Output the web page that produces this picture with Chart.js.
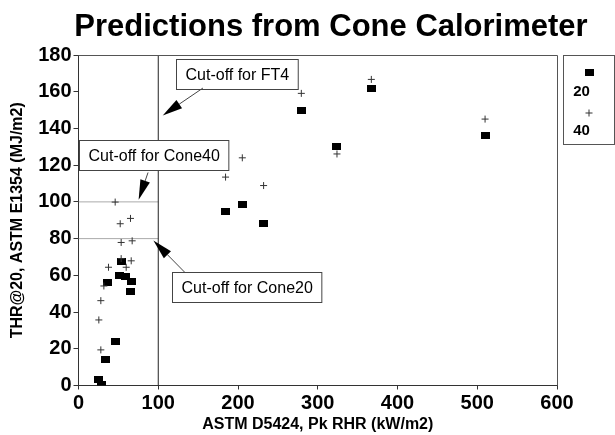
<!DOCTYPE html>
<html>
<head>
<meta charset="utf-8">
<script src="https://cdn.jsdelivr.net/npm/chart.js@4/dist/chart.umd.min.js"></script>
<style>
  html, body { margin: 0; padding: 0; background: #fff; }
</style>
</head>
<body>
<canvas id="chart" width="615" height="435"></canvas>
<script>
// Cone 20 series (squares): Pk RHR vs THR
const rhr20 = [25.5, 28.9, 33.5, 46.4, 36.8, 51.4, 58.5, 66.5, 65.7, 54.5, 184, 205.8, 232.1, 279.4, 324.1, 367.2, 509.8];
const thr20 = [3.4, 0.6, 14.3, 23.9, 56.2, 59.8, 59.3, 56.8, 51.0, 67.5, 94.8, 98.8, 88.4, 149.7, 130.2, 161.8, 136.2];

// Cone 40 series (crosses)
const rhr40 = [25.5, 28, 28, 31.8, 37.6, 46, 52.3, 53.5, 53.5, 59.8, 65.2, 66.1, 67.3, 184.4, 205.4, 232.1, 279.4, 324.1, 367.2, 509.8];
const thr40 = [35.7, 19.4, 46.2, 54.2, 64.4, 99.9, 88.1, 77.9, 69.1, 64.4, 91, 67.9, 78.8, 113.5, 124, 108.9, 159.1, 126.1, 166.7, 145.1];

const seriesNames = ["20", "40"];

// cut-off values
const cutFT4 = 100;      // RHR
const cutCone40 = 100;   // THR
const cutCone20 = 80;    // THR

const xRange = [0, 600];
const yRange = [0, 180];

const notes = [
  { text: "Cut-off for FT4", box: [122, 178], tail: [156, 162], tip: [105.6, 147.1] },
  { text: "Cut-off for Cone40", box: [0, 133.9], tail: [87.2, 116], tip: [75.4, 101.1] },
  { text: "Cut-off for Cone20", box: [117.3, 61.9], tail: [133.6, 61.5], tip: [93.9, 79] }
];

const pts = (xs, ys) => xs.map((x, i) => ({ x: x, y: ys[i] }));

const sq = document.createElement("canvas");
sq.width = 9; sq.height = 7;
sq.getContext("2d").fillRect(0, 0, 9, 7);

const FONT = "'Liberation Sans', Arial, Helvetica, sans-serif";

function arrow(ctx, x1, y1, x2, y2) {
  const a = Math.atan2(y2 - y1, x2 - x1);
  const len = 20, half = 5;
  const bx = x2 - Math.cos(a) * len, by = y2 - Math.sin(a) * len;
  ctx.strokeStyle = "#444";
  ctx.lineWidth = 1;
  ctx.beginPath();
  ctx.moveTo(x1, y1);
  ctx.lineTo(bx, by);
  ctx.stroke();
  ctx.fillStyle = "#000";
  ctx.beginPath();
  ctx.moveTo(x2, y2);
  ctx.lineTo(bx - Math.sin(a) * half, by + Math.cos(a) * half);
  ctx.lineTo(bx + Math.sin(a) * half, by - Math.cos(a) * half);
  ctx.closePath();
  ctx.fill();
}

const extras = {
  id: "extras",
  afterDatasetsDraw(chart) {
    const { ctx, chartArea: a, scales } = chart;
    const sx = scales.x, sy = scales.y;
    ctx.save();
    // frame top and right
    ctx.strokeStyle = "#555";
    ctx.lineWidth = 1;
    ctx.beginPath();
    ctx.moveTo(a.left, a.top + 0.5);
    ctx.lineTo(a.right + 0.5, a.top + 0.5);
    ctx.lineTo(a.right + 0.5, a.bottom);
    ctx.stroke();

    // annotation boxes
    ctx.font = "16px " + FONT;
    notes.forEach(n => {
      const w = ctx.measureText(n.text).width + 18;
      const h = 30;
      const bx = Math.round(sx.getPixelForValue(n.box[0])) + 0.5;
      const by = Math.round(sy.getPixelForValue(n.box[1])) + 0.5;
      ctx.fillStyle = "#fff";
      ctx.fillRect(bx, by, w, h);
      ctx.strokeStyle = "#444";
      ctx.strokeRect(bx, by, w, h);
      ctx.fillStyle = "#000";
      ctx.textAlign = "center";
      ctx.textBaseline = "middle";
      ctx.fillText(n.text, bx + w / 2, by + h / 2 + 1);
      arrow(ctx, sx.getPixelForValue(n.tail[0]), sy.getPixelForValue(n.tail[1]),
        sx.getPixelForValue(n.tip[0]), sy.getPixelForValue(n.tip[1]));
    });

    // legend
    const lx = a.right + 6.5, ly = a.top + 0.5, lw = 51, lh = 89;
    ctx.strokeStyle = "#555";
    ctx.strokeRect(lx, ly, lw, lh);
    ctx.drawImage(sq, lx + 21, ly + 13);
    ctx.fillStyle = "#000";
    ctx.font = "bold 15px " + FONT;
    ctx.textAlign = "center";
    ctx.fillText(seriesNames[0], lx + 18, ly + 36);
    ctx.fillText(seriesNames[1], lx + 18, ly + 75);
    ctx.strokeStyle = "#333";
    ctx.beginPath();
    ctx.moveTo(lx + 22, ly + 57.5); ctx.lineTo(lx + 29, ly + 57.5);
    ctx.moveTo(lx + 25.5, ly + 54); ctx.lineTo(lx + 25.5, ly + 61);
    ctx.stroke();

    // title
    ctx.font = "bold 31px " + FONT;
    ctx.textAlign = "center";
    ctx.textBaseline = "alphabetic";
    ctx.fillText("Predictions from Cone Calorimeter", 331, 36);
    ctx.restore();
  }
};

new Chart(document.getElementById("chart"), {
  type: "scatter",
  data: {
    datasets: [
      {
        label: seriesNames[0],
        data: pts(rhr20, thr20),
        pointStyle: sq,
        pointRadius: 5,
        order: 2
      },
      {
        label: seriesNames[1],
        data: pts(rhr40, thr40),
        pointStyle: "cross",
        pointRadius: 3.5,
        borderColor: "#333",
        borderWidth: 1,
        order: 1
      },
      {
        label: "FT4",
        type: "line",
        data: [{ x: cutFT4, y: yRange[0] }, { x: cutFT4, y: yRange[1] }],
        borderColor: "#222",
        borderWidth: 1,
        pointRadius: 0,
        order: 3
      },
      {
        label: "Cone40",
        type: "line",
        data: [{ x: xRange[0], y: cutCone40 }, { x: cutFT4, y: cutCone40 }],
        borderColor: "#aaa",
        borderWidth: 1,
        pointRadius: 0,
        order: 3
      },
      {
        label: "Cone20",
        type: "line",
        data: [{ x: xRange[0], y: cutCone20 }, { x: cutFT4, y: cutCone20 }],
        borderColor: "#aaa",
        borderWidth: 1,
        pointRadius: 0,
        order: 3
      }
    ]
  },
  options: {
    responsive: false,
    animation: false,
    events: [],
    devicePixelRatio: 1,
    layout: { padding: { top: 55, right: 58, left: 0, bottom: 0 } },
    plugins: {
      legend: { display: false },
      tooltip: { enabled: false },
      title: { display: false }
    },
    scales: {
      x: {
        type: "linear",
        min: xRange[0],
        max: xRange[1],
        ticks: { stepSize: 100, color: "#000", padding: 2, font: { family: FONT, size: 20, weight: "bold" } },
        grid: { drawOnChartArea: false, tickLength: 4, tickColor: "#333" },
        border: { color: "#333", width: 1 },
        title: {
          display: true,
          text: "ASTM D5424, Pk RHR (kW/m2)",
          color: "#000",
          font: { family: FONT, size: 16, weight: "bold" },
          padding: { top: 0, bottom: 1 }
        },
        afterFit(scale) { scale.height = 49.5; }
      },
      y: {
        type: "linear",
        min: yRange[0],
        max: yRange[1],
        ticks: { stepSize: 20, color: "#000", padding: 2, font: { family: FONT, size: 20, weight: "bold" } },
        grid: { drawOnChartArea: false, tickLength: 5, tickColor: "#333" },
        border: { color: "#333", width: 1 },
        title: {
          display: true,
          text: "THR@20, ASTM E1354 (MJ/m2)",
          color: "#000",
          font: { family: FONT, size: 16, weight: "bold" },
          padding: { top: 8, bottom: 0 }
        },
        afterFit(scale) { scale.width = 78.5; }
      }
    }
  },
  plugins: [extras]
});
</script>
</body>
</html>
